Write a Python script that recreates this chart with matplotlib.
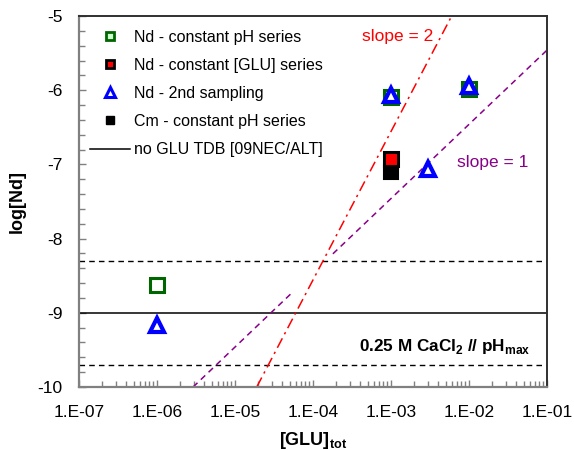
import matplotlib
matplotlib.use("Agg")
import matplotlib.pyplot as plt
from matplotlib.lines import Line2D
from matplotlib.ticker import FixedLocator, LogLocator, MultipleLocator, FuncFormatter, NullFormatter
import numpy as np

plt.rcParams['font.family'] = ['Liberation Sans', 'DejaVu Sans']
plt.rcParams['mathtext.fontset'] = 'custom'
plt.rcParams['mathtext.rm'] = 'Liberation Sans'
plt.rcParams['mathtext.bf'] = 'Liberation Sans:bold'

# --- data ---
x_decades = [1e-7, 1e-6, 1e-5, 1e-4, 1e-3, 1e-2, 1e-1]

nd_ph_x = [1e-6, 1e-3, 1e-2]
nd_ph_y = [-8.62, -6.09, -5.99]

nd_glu_x = [1e-3]
nd_glu_y = [-6.93]

nd_2nd_x = [1e-6, 1e-3, 3e-3, 1e-2]
nd_2nd_y = [-9.16, -6.07, -7.06, -5.95]

cm_ph_x = [1e-3]
cm_ph_y = [-7.10]

tdb_level = -9.0
tdb_band = [-8.3, -9.7]

slope2_x = [1.9e-5, 6.0e-3]
slope2_y = [-10.0, -5.0]

slope1a_x = [2.9e-6, 5.5e-5]
slope1a_y = [-10.0, -8.72]
slope1b_x = [1.8e-4, 1e-1]
slope1b_y = [-8.205, -5.46]

green = '#006600'
blue = '#0000FF'
purple = '#880088'

fig = plt.figure(figsize=(5.74, 4.5), dpi=100)
ax = fig.add_axes([79/574, 1 - 387/450, 468/574, 371/450])

# reference lines
ax.axhline(tdb_level, color='black', lw=1.1, zorder=2)
for lvl in tdb_band:
    ax.axhline(lvl, color='black', lw=1.0, ls=(0, (4, 3)), zorder=2)

ax.plot(slope2_x, slope2_y, color='red', lw=1.1, ls=(0, (7, 3, 1.5, 3)), zorder=2)
ax.plot(slope1a_x, slope1a_y, color=purple, lw=1.1, ls=(0, (4, 3)), zorder=2)
ax.plot(slope1b_x, slope1b_y, color=purple, lw=1.1, ls=(0, (4, 3)), zorder=2)

# data points
ax.plot(nd_ph_x, nd_ph_y, ls='none', marker='s', ms=9.5, mfc='white', mec=green, mew=2.2, zorder=4)
ax.plot(cm_ph_x, cm_ph_y, ls='none', marker='s', ms=10, mfc='black', mec='black', mew=1.5, zorder=4)
ax.plot(nd_glu_x, nd_glu_y, ls='none', marker='s', ms=9.5, mfc='red', mec='black', mew=2.2, zorder=5)
ax.plot(nd_2nd_x, nd_2nd_y, ls='none', marker='^', ms=10, mfc='white', mec=blue, mew=3, zorder=6)

ax.set_xscale('log')
ax.set_xlim(1e-7, 1e-1)
ax.set_ylim(-10, -5)

ax.xaxis.set_major_locator(FixedLocator(x_decades))
ax.xaxis.set_minor_locator(LogLocator(base=10, subs=np.arange(2, 10), numticks=20))
ax.xaxis.set_major_formatter(FuncFormatter(lambda v, p: f"1.E{int(round(np.log10(v))):03d}"))
ax.xaxis.set_minor_formatter(NullFormatter())
ax.yaxis.set_major_locator(MultipleLocator(1))
ax.yaxis.set_minor_locator(MultipleLocator(0.2))
ax.yaxis.set_major_formatter(FuncFormatter(lambda v, p: f"{v:.0f}"))

ax.tick_params(which='both', direction='in', color='#808080', width=1.0, labelsize=12.5)
ax.tick_params(which='major', length=5)
ax.tick_params(which='minor', length=4)
ax.tick_params(axis='y', which='major', pad=12)
ax.tick_params(axis='x', which='major', pad=13)

for side in ['left', 'bottom']:
    ax.spines[side].set_color('#808080')
    ax.spines[side].set_linewidth(1.6)
for side in ['top', 'right']:
    ax.spines[side].set_color('#303030')
    ax.spines[side].set_linewidth(1.4)

ax.set_ylabel('log[Nd]', fontsize=13, fontweight='bold', labelpad=8)
ax.set_xlabel(r'[GLU]$_{\mathbf{tot}}$', fontsize=13, fontweight='bold', labelpad=7)

ax.text(3.5e-3, -5.27, 'slope = 2', color='red', fontsize=12.5, ha='right', va='center')
ax.text(7.1e-3, -6.97, 'slope = 1', color=purple, fontsize=12.5, ha='left', va='center')
ax.text(0.061, -9.45, r'0.25 M CaCl$_{\mathbf{2}}$ // pH$_{\mathbf{max}}$',
        fontsize=12.3, fontweight='bold', ha='right', va='center')

handles = [
    Line2D([], [], ls='none', marker='s', ms=6, mfc='#ccffcc', mec=green, mew=2),
    Line2D([], [], ls='none', marker='s', ms=6, mfc='red', mec='black', mew=2),
    Line2D([], [], ls='none', marker='^', ms=7, mfc='white', mec=blue, mew=2.2),
    Line2D([], [], ls='none', marker='s', ms=6, mfc='black', mec='black'),
    Line2D([], [], color='black', lw=1.1),
]
labels = ['Nd - constant pH series', 'Nd - constant [GLU] series', 'Nd - 2nd sampling',
          'Cm - constant pH series', 'no GLU TDB [09NEC/ALT]']
ax.legend(handles, labels, loc='upper left', bbox_to_anchor=(0.023, 0.963), frameon=False,
          fontsize=11.5, handlelength=2.5, handletextpad=0.25, labelspacing=0.82,
          borderpad=0, borderaxespad=0)

fig.savefig('out.png', dpi=100)
